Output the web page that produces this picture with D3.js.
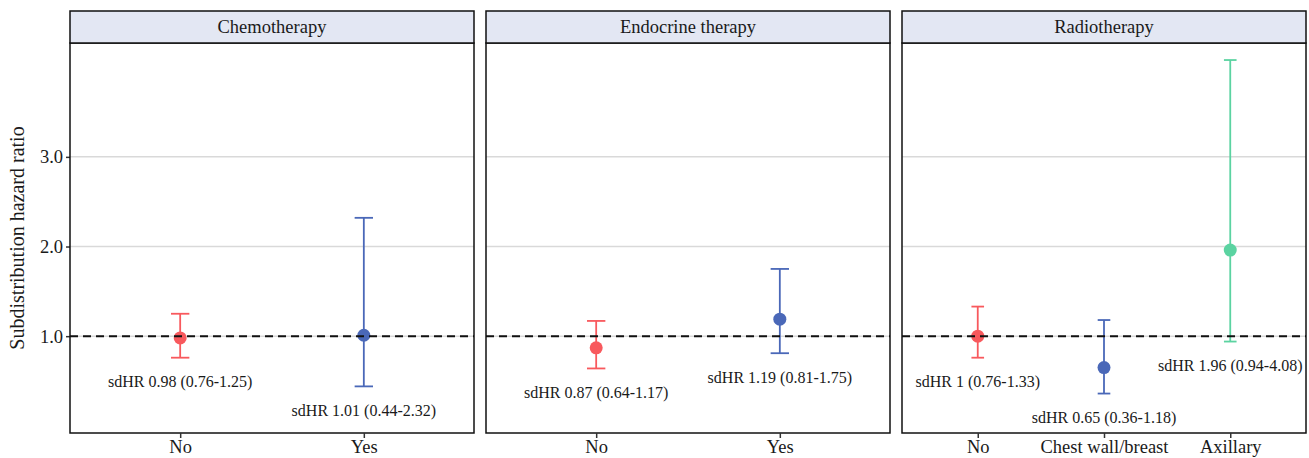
<!DOCTYPE html>
<meta charset="utf-8">
<title>Subdistribution hazard ratios</title>
<style>
  body { margin: 0; background: #fff; }
  text { font-family: "Liberation Serif", "Times New Roman", serif; fill: #1a1a1a; }
</style>
<body>
<script src="https://cdn.jsdelivr.net/npm/d3@7/dist/d3.min.js"></script>
<script>

// facets and their categories
const facets = ["Chemotherapy", "Endocrine therapy", "Radiotherapy"];
const categories = [
  ["No", "Yes"],
  ["No", "Yes"],
  ["No", "Chest wall/breast", "Axillary"]
];
// estimates and 95% CI per facet
const estimates = [[0.98, 1.01], [0.87, 1.19], [1, 0.65, 1.96]];
const lowers    = [[0.76, 0.44], [0.64, 0.81], [0.76, 0.36, 0.94]];
const uppers    = [[1.25, 2.32], [1.17, 1.75], [1.33, 1.18, 4.08]];
const yTicks = [1, 2, 3];
const colors = ["#f8595d", "#4a68b8", "#5bd3a1"];

var width = 1309,
  height = 458,
  panelTop = 43,
  panelBottom = 433,
  stripTop = 11,
  panelW = 404,
  panelX = [70, 486, 902];

var svg = d3.select("body").append("svg")
    .attr("width", width)
    .attr("height", height);

var y = d3.scaleLinear()
    .domain([-0.08, 4.27])
    .range([panelBottom, panelTop]);

// y axis title
svg.append("text")
    .attr("transform", "translate(24," + ((panelTop + panelBottom) / 2) + ") rotate(-90)")
    .attr("text-anchor", "middle")
    .style("font-size", "20px")
    .text("Subdistribution hazard ratio");

// y axis on the first panel
var yAxis = svg.append("g")
    .attr("transform", "translate(" + panelX[0] + ",0)")
    .call(d3.axisLeft(y).tickValues(yTicks).tickFormat(d3.format(".1f")).tickSize(4).tickPadding(3));
yAxis.select(".domain").remove();
yAxis.selectAll(".tick line").attr("stroke", "#333").attr("stroke-width", 1.5);
yAxis.selectAll(".tick text").style("font-size", "18.5px").attr("fill", "#1a1a1a");

facets.forEach((facet, f) => {
  var x0 = panelX[f];
  var g = svg.append("g").attr("transform", "translate(" + x0 + ",0)");

  var x = d3.scalePoint()
      .domain(categories[f])
      .range([0, panelW])
      .padding(0.6);
  var capHalf = x.step() * 0.05;

  // grid
  g.selectAll("line.grid")
      .data(yTicks)
    .enter().append("line")
      .attr("class", "grid")
      .attr("x1", 0).attr("x2", panelW)
      .attr("y1", d => y(d)).attr("y2", d => y(d))
      .attr("stroke", "#d9d9d9")
      .attr("stroke-width", 1.5);

  var rows = categories[f].map((c, i) => ({
    cat: c, est: estimates[f][i], lo: lowers[f][i], hi: uppers[f][i], color: colors[i]
  }));

  // error bars
  var eb = g.selectAll("g.eb")
      .data(rows)
    .enter().append("g")
      .attr("class", "eb")
      .attr("stroke", d => d.color)
      .attr("stroke-width", 1.8);
  eb.append("line")
      .attr("x1", d => x(d.cat)).attr("x2", d => x(d.cat))
      .attr("y1", d => y(d.lo)).attr("y2", d => y(d.hi));
  eb.append("line")
      .attr("x1", d => x(d.cat) - capHalf).attr("x2", d => x(d.cat) + capHalf)
      .attr("y1", d => y(d.lo)).attr("y2", d => y(d.lo));
  eb.append("line")
      .attr("x1", d => x(d.cat) - capHalf).attr("x2", d => x(d.cat) + capHalf)
      .attr("y1", d => y(d.hi)).attr("y2", d => y(d.hi));

  // points
  g.selectAll("circle")
      .data(rows)
    .enter().append("circle")
      .attr("cx", d => x(d.cat))
      .attr("cy", d => y(d.est))
      .attr("r", 6.5)
      .attr("fill", d => d.color);

  // reference line at 1
  g.append("line")
      .attr("x1", 0).attr("x2", panelW)
      .attr("y1", y(1)).attr("y2", y(1))
      .attr("stroke", "#111")
      .attr("stroke-width", 2)
      .attr("stroke-dasharray", "8,5");

  // labels under lower CI
  g.selectAll("text.lab")
      .data(rows)
    .enter().append("text")
      .attr("class", "lab")
      .attr("x", d => x(d.cat))
      .attr("y", d => y(d.lo) + 24)
      .attr("dy", "0.35em")
      .attr("text-anchor", "middle")
      .style("font-size", "16px")
      .text(d => "sdHR " + d.est + " (" + d.lo + "-" + d.hi + ")");

  // panel border
  g.append("rect")
      .attr("x", 0).attr("y", panelTop)
      .attr("width", panelW).attr("height", panelBottom - panelTop)
      .attr("fill", "none")
      .attr("stroke", "#111")
      .attr("stroke-width", 1.5);

  // strip
  g.append("rect")
      .attr("x", 0).attr("y", stripTop)
      .attr("width", panelW).attr("height", panelTop - stripTop)
      .attr("fill", "#e3e7f3")
      .attr("stroke", "#111")
      .attr("stroke-width", 1.5);
  g.append("text")
      .attr("x", panelW / 2)
      .attr("y", (stripTop + panelTop) / 2)
      .attr("dy", "0.35em")
      .attr("text-anchor", "middle")
      .style("font-size", "18.5px")
      .text(facet);

  // x axis
  var xAxis = g.append("g")
      .attr("transform", "translate(0," + panelBottom + ")")
      .call(d3.axisBottom(x).tickSize(5).tickPadding(2));
  xAxis.select(".domain").remove();
  xAxis.selectAll(".tick line").attr("stroke", "#333").attr("stroke-width", 1.5);
  xAxis.selectAll(".tick text").style("font-size", "18.5px").attr("fill", "#1a1a1a");
});

</script>
